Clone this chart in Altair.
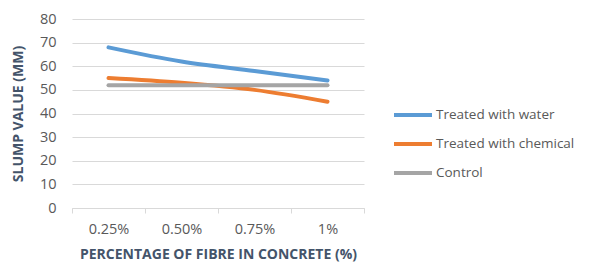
import altair as alt
import pandas as pd

categories = ["0.25%", "0.50%", "0.75%", "1%"]
series_names = ["Treated with water", "Treated with chemical", "Control"]
water = [68, 62, 58, 54]
chemical = [55, 53, 50, 45]
control = [52, 52, 52, 52]
colors = ["#5B9BD5", "#ED7D31", "#A5A5A5"]

rows = []
for name, vals in zip(series_names, [water, chemical, control]):
    for c, v in zip(categories, vals):
        rows.append({"cat": c, "series": name, "value": v})
df = pd.DataFrame(rows)

FONT = "Open Sans"
TITLE_COLOR = "#44546A"
LABEL_COLOR = "#595959"

chart = alt.Chart(df).mark_line(strokeWidth=4, interpolate="monotone", strokeCap="round").encode(
    x=alt.X("cat:N", sort=categories, bandPosition=0.5,
            scale=alt.Scale(type="band", paddingInner=0, paddingOuter=0),
            axis=alt.Axis(title="PERCENTAGE OF FIBRE IN  CONCRETE (%)", labelAngle=0,
                          tickBand="extent", tickSize=5, tickColor="#D9D9D9",
                          domainColor="#D9D9D9", grid=False, labelPadding=9,
                          titlePadding=12)),
    y=alt.Y("value:Q", scale=alt.Scale(domain=[0, 80]),
            axis=alt.Axis(title="SLUMP VALUE  (MM)", values=list(range(0, 81, 10)),
                          domain=False, ticks=False, labelPadding=16, gridColor="#D9D9D9",
                          titlePadding=14)),
    color=alt.Color("series:N", sort=series_names,
                    scale=alt.Scale(domain=series_names, range=colors),
                    legend=alt.Legend(title=None, orient="none", legendX=320, legendY=75,
                                      symbolType="stroke", symbolSize=1444, symbolStrokeWidth=4,
                                      rowPadding=0, labelOffset=2)),
).properties(
    width=292, height=189,
    autosize=alt.AutoSizeParams(type="none"),
    padding={"left": 64, "top": 11, "right": 218, "bottom": 60},
).configure_axis(
    labelFont=FONT, labelFontSize=14.5, labelColor=LABEL_COLOR,
    titleFont=FONT, titleFontSize=14, titleFontWeight="bold", titleColor=TITLE_COLOR,
).configure_legend(
    labelFont=FONT, labelFontSize=13.5, labelColor=LABEL_COLOR,
).configure_view(stroke=None)

chart.save("out.html", embed_options={"renderer": "svg", "actions": False})
